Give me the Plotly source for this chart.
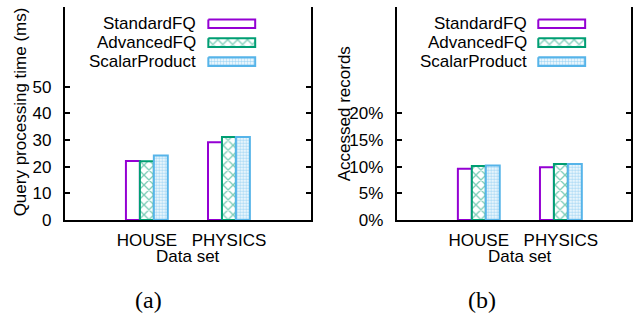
import plotly.graph_objects as go

# ---------------- data ----------------
categories = ["HOUSE", "PHYSICS"]
series_names = ["StandardFQ", "AdvancedFQ", "ScalarProduct"]
time_standard = [22.1, 29.2]
time_advanced = [22.0, 31.1]
time_scalar = [24.2, 31.1]
acc_standard = [9.6, 9.9]     # percent
acc_advanced = [10.1, 10.5]
acc_scalar = [10.2, 10.5]
time_ticks = [0, 10, 20, 30, 40, 50]
acc_ticks = [0, 5, 10, 15, 20]
captions = ["(a)", "(b)"]

# ---------------- styles ----------------
W, H = 633, 322
FONT = "Liberation Sans, Arial, Helvetica, sans-serif"
FS = 17
colors = ["#9400D3", "#009E73", "#56B4E9"]
patterns = [
    dict(shape="", bgcolor="white"),
    dict(shape="x", fgcolor="#009E73", bgcolor="white", size=7, solidity=0.35),
    dict(shape=".", fgcolor="#56B4E9", bgcolor="white", size=3, solidity=0.55),
]

def px_x(p):
    return p / W

def px_y(p):
    return 1 - p / H

# plot boxes in pixels
L_X0, L_X1 = 65, 312
R_X0 = 398
Y_TOP, Y_BOT = 7, 227
UNIT = (L_X1 - L_X0) / 3.0
R_RANGE_END = -1 + (W - R_X0) / UNIT

fig = go.Figure()

xs = list(range(len(categories)))
left_vals = [time_standard, time_advanced, time_scalar]
right_vals = [acc_standard, acc_advanced, acc_scalar]

for i, name in enumerate(series_names):
    fig.add_trace(go.Bar(
        x=xs, y=left_vals[i], name=name, xaxis="x", yaxis="y",
        marker=dict(color="white", line=dict(color=colors[i], width=2),
                    pattern=patterns[i]),
        showlegend=False,
    ))
for i, name in enumerate(series_names):
    fig.add_trace(go.Bar(
        x=xs, y=right_vals[i], name=name, xaxis="x2", yaxis="y2",
        marker=dict(color="white", line=dict(color=colors[i], width=2),
                    pattern=patterns[i]),
        showlegend=False,
    ))

# ---------------- manual legends (pixel overlay axis) ----------------
legend_rows = [24.5, 44, 63.5]
legend_specs = [(199, 209, 256), (531, 540, 587)]
annotations = []
for (text_x, sx0, sx1) in legend_specs:
    for i, name in enumerate(series_names):
        cy = legend_rows[i]
        fig.add_trace(go.Scatter(
            x=[sx0, sx1, sx1, sx0, sx0],
            y=[cy - 4.5, cy - 4.5, cy + 4.5, cy + 4.5, cy - 4.5],
            xaxis="x3", yaxis="y3", mode="lines", fill="toself",
            fillcolor="white",
            fillpattern=patterns[i] if patterns[i]["shape"] else None,
            line=dict(color=colors[i], width=2),
            showlegend=False, hoverinfo="skip",
        ))
        annotations.append(dict(
            x=px_x(text_x), y=px_y(cy), xref="paper", yref="paper",
            text=name, showarrow=False, xanchor="right", yanchor="middle",
            font=dict(family=FONT, size=FS, color="black"),
        ))

def centered(text, x, y, **kw):
    d = dict(x=px_x(x), y=px_y(y), xref="paper", yref="paper", text=text,
             showarrow=False, xanchor="center", yanchor="middle",
             font=dict(family=FONT, size=FS, color="black"))
    d.update(kw)
    return d

serif = dict(family="Liberation Serif, DejaVu Serif, serif", size=24, color="black")
annotations += [
    centered("Query processing time (ms)", 20, 115, textangle=-90),
    centered("Accessed records", 345, 117, textangle=-90),
    centered("Data set", (L_X0 + L_X1) / 2, 265),
    centered("Data set", R_X0 + 1.5 * UNIT, 265),
    centered(captions[0], 149, 310, font=serif),
    centered(captions[1], 484, 310, font=serif),
]

tickfont = dict(family=FONT, size=FS, color="black")
ydom = [px_y(Y_BOT), px_y(Y_TOP)]

common_x = dict(showgrid=False, zeroline=False, showline=True, linecolor="black",
                linewidth=2, ticks="", tickfont=tickfont,
                tickvals=xs, ticktext=categories, fixedrange=True,
                ticklabelstandoff=4)
top_x = dict(showgrid=False, zeroline=False, showline=True, linecolor="black",
             linewidth=2, ticks="inside", ticklen=5, tickwidth=2, tickcolor="black",
             tickvals=xs, showticklabels=False, side="top")
common_y = dict(showgrid=False, zeroline=False, showline=True, linecolor="black",
                linewidth=2, mirror="ticks", ticks="inside", ticklen=5, tickwidth=2,
                tickcolor="black", tickfont=tickfont, domain=ydom,
                ticklabelstandoff=8, fixedrange=True)

fig.update_layout(
    width=W, height=H, margin=dict(l=0, r=0, t=0, b=0),
    paper_bgcolor="white", plot_bgcolor="rgba(0,0,0,0)",
    barmode="group", bargap=0.49, bargroupgap=0,
    showlegend=False,
    xaxis=dict(common_x, domain=[px_x(L_X0), px_x(L_X1)], range=[-1, 2], anchor="y"),
    yaxis=dict(common_y, range=[0, 80], tickvals=time_ticks,
               ticktext=[str(v) for v in time_ticks], anchor="x"),
    xaxis2=dict(common_x, domain=[px_x(R_X0), 1], range=[-1, R_RANGE_END], anchor="y2"),
    yaxis2=dict(common_y, range=[0, 40], tickvals=acc_ticks,
                ticktext=[f"{v}%" for v in acc_ticks], anchor="x2"),
    xaxis4=dict(top_x, overlaying="x", range=[-1, 2], anchor="y"),
    xaxis5=dict(top_x, overlaying="x2", range=[-1, R_RANGE_END], anchor="y2"),
    xaxis3=dict(domain=[0, 1], range=[0, W], visible=False, fixedrange=True, anchor="y3"),
    yaxis3=dict(domain=[0, 1], range=[H, 0], visible=False, fixedrange=True, anchor="x3"),
    annotations=annotations,
)

fig.write_html("out.html", config={"displayModeBar": False, "staticPlot": True},
               post_script="document.body.style.margin='0';document.body.style.overflow='hidden';")
